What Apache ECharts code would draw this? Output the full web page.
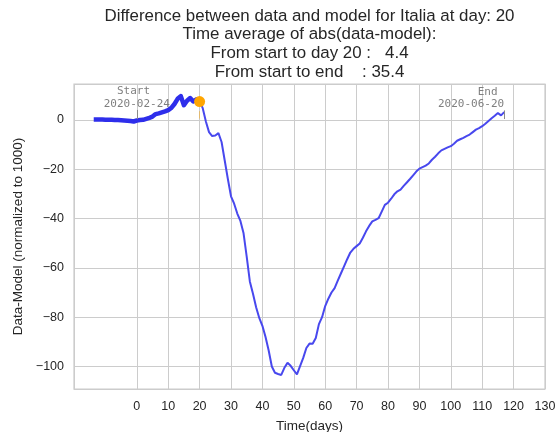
<!DOCTYPE html>
<html>
<head>
<meta charset="utf-8">
<script src="https://cdn.jsdelivr.net/npm/echarts@6/dist/echarts.min.js"></script>
<style>
  html, body { margin: 0; padding: 0; background: #fff; }
  #chart { width: 555px; height: 432px; }
</style>
</head>
<body>
<div id="chart"></div>
<script>
// days since start (2020-02-24 = day 0)
const days = [
  -13, -12, -11, -10, -9, -8, -7, -6, -5, -4, -3, -2, -1,
  0, 1, 2, 3, 4, 5, 6, 7, 8, 9, 10, 11, 12, 13, 14, 15, 16, 17, 18, 19, 20,
  21, 22, 23, 24, 25, 26, 27, 28, 29, 30, 31, 32, 33, 34, 35, 36, 37, 38, 39, 40,
  41, 42, 43, 44, 45, 46, 47, 48, 49, 50, 51, 52, 53, 54, 55, 56, 57, 58, 59, 60,
  61, 62, 63, 64, 65, 66, 67, 68, 69, 70, 71, 72, 73, 74, 75, 76, 77, 78, 79, 80,
  81, 82, 83, 84, 85, 86, 87, 88, 89, 90, 91, 92, 93, 94, 95, 96, 97, 98, 99, 100,
  101, 102, 103, 104, 105, 106, 107, 108, 109, 110, 111, 112, 113, 114, 115, 116, 117
];
// data - model (normalized to 1000)
const diffValues = [
  0.1, 0.1, 0.1, 0.0, 0.0, 0.0, -0.1, -0.1, -0.2, -0.3, -0.4, -0.5, -0.7,
  -0.3, -0.1, 0.0, 0.4, 0.8, 1.3, 2.3, 2.6, 3.0, 3.4, 3.9, 4.8, 6.4, 8.5, 9.6, 5.9, 7.7, 8.8, 7.4, 8.3, 7.4,
  4.7, -0.7, -5.0, -6.6, -6.4, -5.4, -9.0, -16.5, -24.0, -31.0, -34.0, -38.0, -41.0, -46.0, -55.5, -65.5, -70.5, -76.0, -80.3, -83.5,
  -88.0, -93.5, -100.0, -102.5, -103.0, -103.4, -100.5, -98.5, -99.7, -101.5, -103.2, -99.8, -96.5, -92.5, -90.7, -90.8, -88.4, -82.8, -80.0, -75.5,
  -72.5, -70.0, -68.2, -65.2, -62.3, -59.4, -56.5, -53.8, -52.3, -51.2, -50.1, -47.8, -45.2, -43.0, -41.2, -40.6, -39.9, -37.2, -34.5, -33.6,
  -32.0, -30.2, -29.0, -28.3, -26.8, -25.4, -24.0, -22.5, -21.0, -19.8, -19.2, -18.6, -17.7, -16.2, -15.0, -13.6, -12.4, -11.8, -11.2, -10.7,
  -9.7, -8.5, -7.9, -7.3, -6.6, -6.0, -5.0, -4.0, -3.4, -2.6, -1.6, -0.5, 0.6, 1.6, 2.7, 1.8, 3.1
];
const currentDay = 20;
const xTickLabels = [0, 10, 20, 30, 40, 50, 60, 70, 80, 90, 100, 110, 120, 130];
const titleLines = [
  'Difference between data and model for Italia at day: 20',
  'Time average of abs(data-model):',
  'From start to day 20 :   4.4',
  'From start to end    : 35.4'
];
const startLabel = 'Start \n2020-02-24';
const endLabel = 'End \n2020-06-20';

const chart = echarts.init(document.getElementById('chart'));

const idx = days.indexOf(currentDay);
const pairs = days.map((d, i) => [d, diffValues[i]]);
const fitPart = pairs.slice(0, idx + 1);
const restPart = pairs.slice(idx);
const lastDay = days[days.length - 1];

const gridColor = '#cccccc';
const textColor = '#262626';
// ticks from -20: hide the -10 line, there is no label there
const xSplitColors = [gridColor, 'rgba(0,0,0,0)'].concat(xTickLabels.map(() => gridColor));

const option = {
  animation: false,
  backgroundColor: '#fff',
  title: {
    text: titleLines.join('\n'),
    left: 309.5,
    top: 6.5,
    padding: 0,
    textAlign: 'center',
    textStyle: {
      fontFamily: 'Liberation Sans',
      fontSize: 16.9,
      fontWeight: 'normal',
      lineHeight: 18.8,
      color: textColor,
    },
  },
  grid: {
    left: 74,
    right: 10,
    top: 84,
    bottom: 43,
    outerBoundsMode: 'none',
    containLabel: false,
    show: true,
    borderColor: gridColor,
    borderWidth: 1.25,
    backgroundColor: '#fff',
  },
  xAxis: {
    type: 'value',
    min: -20,
    max: 130,
    interval: 10,
    axisLine: { show: false },
    axisTick: { show: false },
    axisLabel: {
      margin: 11,
      fontFamily: 'Liberation Sans',
      fontSize: 12.5,
      color: textColor,
      formatter: (v) => (xTickLabels.indexOf(v) >= 0 ? String(v) : ''),
    },
    splitLine: { show: true, lineStyle: { color: xSplitColors, width: 1 } },
    name: 'Time(days)',
    nameLocation: 'middle',
    nameGap: 30,
    nameTextStyle: { fontFamily: 'Liberation Sans', fontSize: 13.5, color: textColor },
  },
  yAxis: {
    type: 'value',
    min: -109.1,
    max: 14.5,
    splitNumber: 6,
    minInterval: 20,
    maxInterval: 20,
    axisLine: { show: false },
    axisTick: { show: false },
    axisLabel: {
      margin: 10,
      fontFamily: 'Liberation Sans',
      fontSize: 12.5,
      color: textColor,
      formatter: (v) => (v % 20 === 0 ? String(v).replace('-', '\u2212') : ''),
    },
    splitLine: { show: true, lineStyle: { color: gridColor, width: 1 } },
    name: 'Data-Model (normalized to 1000)',
    nameLocation: 'middle',
    nameRotate: 90,
    nameGap: 44,
    nameTextStyle: { fontFamily: 'Liberation Sans', fontSize: 13.5, color: textColor },
  },
  series: [
    {
      type: 'line',
      data: restPart,
      showSymbol: false,
      z: 2,
      lineStyle: { color: '#4848ee', width: 2 },
      markLine: {
        silent: true,
        symbol: 'none',
        label: { show: false },
        lineStyle: { type: 'solid', width: 1, color: '#8a8a8a' },
        data: [
          [{ coord: [0, 0.3] }, { coord: [0, 4] }],
          [{ coord: [lastDay, 0.3] }, { coord: [lastDay, 3.8] }],
          [{ coord: [currentDay, 0.5], lineStyle: { color: 'rgba(255,165,0,0.45)' } }, { coord: [currentDay, 3.5] }],
        ],
      },
      markPoint: {
        silent: true,
        symbol: 'rect',
        symbolSize: 1,
        itemStyle: { color: 'rgba(0,0,0,0)' },
        label: {
          show: true,
          position: 'inside',
          fontFamily: 'DejaVu Sans Mono',
          fontSize: 11,
          lineHeight: 12.5,
          color: '#7f7f7f',
          verticalAlign: 'middle',
        },
        data: [
          { coord: [0, 8.9], label: { formatter: startLabel, align: 'center' } },
          { coord: [lastDay, 8.8], label: { formatter: endLabel, align: 'right' } },
        ],
      },
    },
    {
      type: 'line',
      data: fitPart,
      showSymbol: false,
      z: 3,
      lineStyle: { color: '#2e2eeb', width: 4.5, cap: 'square', join: 'round' },
    },
    {
      type: 'scatter',
      data: [pairs[idx]],
      symbolSize: 11,
      z: 5,
      itemStyle: { color: '#ffa500', opacity: 1 },
    },
  ],
};

chart.setOption(option);
</script>
</body>
</html>
